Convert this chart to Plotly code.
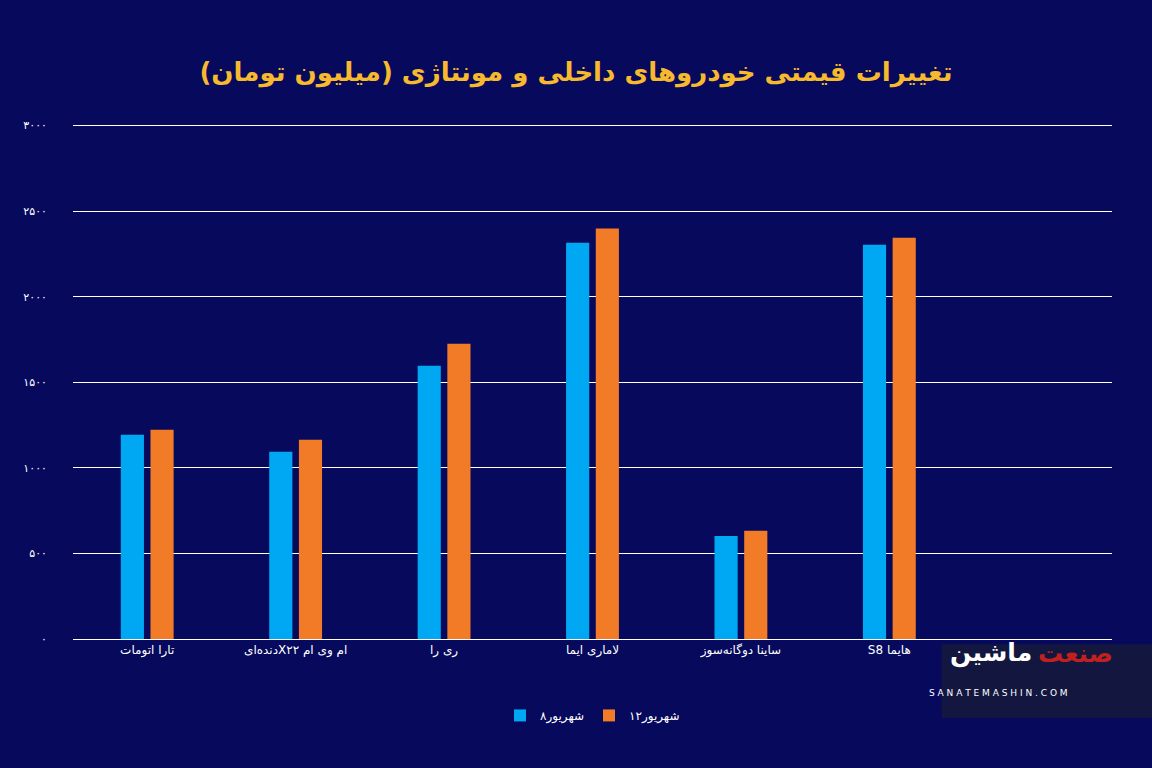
import plotly.graph_objects as go

# Car prices, million toman
cars = ["تارا اتومات", "دنده‌ایX۲۲ ام وی ام", "ری را", "لاماری ایما", "ساینا دوگانه‌سوز", "S8 هایما", " "]
prices_8 = [1193, 1094, 1596, 2316, 602, 2304, None]
prices_12 = [1222, 1164, 1725, 2398, 632, 2345, None]
tick_vals = [0, 500, 1000, 1500, 2000, 2500, 3000]
tick_text = ["۰", "۵۰۰", "۱۰۰۰", "۱۵۰۰", "۲۰۰۰", "۲۵۰۰", "۳۰۰۰"]

fig = go.Figure()
fig.add_bar(x=cars, y=prices_8, name="۸شهریور", marker_color="#00a8f3", marker_line_width=0)
fig.add_bar(x=cars, y=prices_12, name="۱۲شهریور", marker_color="#f27b27", marker_line_width=0)

fig.update_layout(
    width=1152, height=768,
    paper_bgcolor="#06095c", plot_bgcolor="#06095c",
    font=dict(family="DejaVu Sans", color="white", size=12),
    title=dict(text="<b>تغییرات قیمتی خودروهای داخلی و مونتاژی (میلیون تومان)</b>",
               x=0.5, y=0.918, xanchor="center",
               font=dict(size=26, color="#f7b92d")),
    margin=dict(l=73, r=40, t=123, b=129),
    bargap=0.6, bargroupgap=0.22,
    legend=dict(orientation="h", x=0.5, y=-0.12, xanchor="center", font=dict(size=12)),
)
fig.update_yaxes(range=[0, 3015], tickvals=tick_vals, ticktext=tick_text,
                 gridcolor="white", gridwidth=1, zeroline=False, ticks="",
                 ticklabelstandoff=25, tickfont=dict(size=11))
fig.update_xaxes(showline=True, linecolor="white", tickfont=dict(size=12))

fig.add_shape(type="rect", xref="paper", yref="paper", x0=0.836, x1=1.04,
              y0=-0.153, y1=-0.01, fillcolor="#13163f", line_width=0, layer="above")
fig.add_annotation(xref="paper", yref="paper", x=0.925, y=-0.06, showarrow=False,
                   text="<b>ماشین</b>", font=dict(size=25, color="white"))
fig.add_annotation(xref="paper", yref="paper", x=1.003, y=-0.06, showarrow=False,
                   text="<b>صنعت</b>", font=dict(size=25, color="#c0211f"))
fig.add_annotation(xref="paper", yref="paper", x=0.96, y=-0.118, showarrow=False,
                   text="S A N A T E M A S H I N . C O M", font=dict(size=9, color="white"))

fig.write_html("out.html", config={"displayModeBar": False},
               post_script="document.body.style.margin='0';")
